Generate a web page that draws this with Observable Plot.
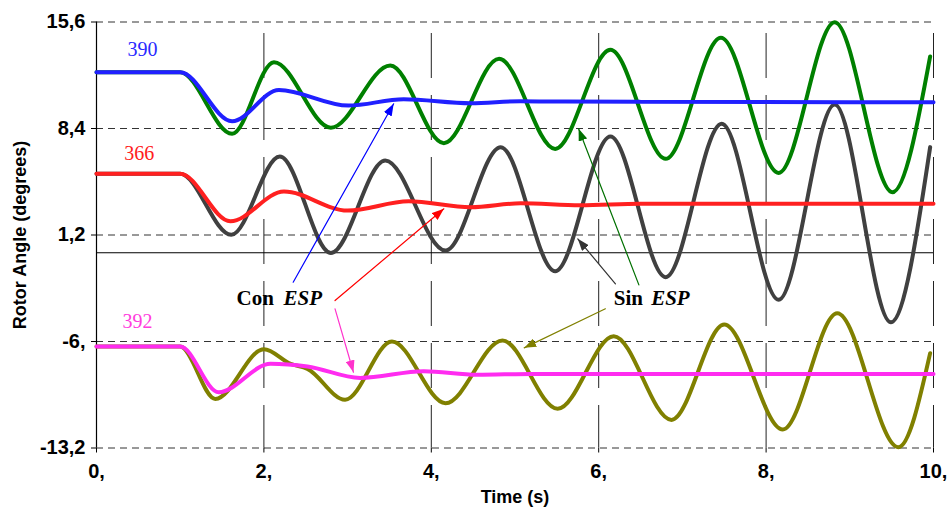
<!DOCTYPE html>
<html><head><meta charset="utf-8">
<script src="https://cdn.jsdelivr.net/npm/d3@7"></script>
<script src="https://cdn.jsdelivr.net/npm/@observablehq/plot@0.6"></script>
<style>html,body{margin:0;padding:0;background:#fff;overflow:hidden}</style>
</head><body><div id="chart"></div>
<script>
// ---- axis ticks ----
const xTicks = [0, 2, 4, 6, 8, 10];
const xTickLabels = ["0,", "2,", "4,", "6,", "8,", "10,"];
const yTicks = [15.6, 8.4, 1.2, -6, -13.2];
const yTickLabels = ["15,6", "8,4", "1,2", "-6,", "-13,2"];
const xLabel = "Time (s)";
const yLabel = "Rotor Angle (degrees)";

// ---- series (time s, rotor angle deg) ----
// Generator 390
const g390ConT = [0, 1.0, 1.62, 2.18, 3.01, 3.67, 4.47, 5.07, 5.6, 6.5, 10];
const g390ConV = [12.2, 12.2, 8.89, 11.0, 9.95, 10.38, 10.11, 10.25, 10.22, 10.2, 10.18];
const g390SinT = [0, 1.0, 1.62, 2.12, 2.80, 3.51, 4.15, 4.81, 5.48, 6.14, 6.80, 7.46, 8.15, 8.82, 9.51, 9.96];
const g390SinV = [12.2, 12.2, 8.04, 12.88, 8.45, 12.66, 7.41, 13.11, 7.02, 13.72, 6.35, 14.53, 5.40, 15.59, 4.09, 13.27];
// Generator 366
const g366ConT = [0, 1.0, 1.60, 2.24, 3.0, 3.73, 4.47, 5.07, 5.78, 6.5, 10];
const g366ConV = [5.34, 5.34, 2.13, 4.14, 2.85, 3.48, 3.08, 3.35, 3.21, 3.31, 3.31];
const g366SinT = [0, 1.0, 1.61, 2.19, 2.80, 3.45, 4.17, 4.83, 5.48, 6.14, 6.80, 7.47, 8.15, 8.82, 9.49, 9.96];
const g366SinV = [5.34, 5.34, 1.21, 6.51, -0.01, 6.24, 0.15, 7.14, -1.25, 7.86, -1.65, 8.72, -3.18, 10.02, -4.7, 7.14];
// Generator 392
const g392ConT = [0, 1.0, 1.46, 2.08, 2.52, 3.15, 3.91, 4.55, 5.2, 10];
const g392ConV = [-6.34, -6.34, -9.43, -7.51, -7.69, -8.46, -8.01, -8.25, -8.19, -8.19];
const g392SinT = [0, 1.0, 1.42, 2.0, 2.32, 2.52, 2.97, 3.53, 4.17, 4.85, 5.51, 6.18, 6.87, 7.50, 8.20, 8.85, 9.58, 9.96];
const g392SinV = [-6.34, -6.34, -9.88, -6.52, -7.51, -7.85, -9.94, -6.0, -10.17, -5.93, -10.55, -5.64, -11.3, -4.85, -11.95, -4.09, -13.15, -6.79];

// ---- annotations ----
const genNames = ["390", "366", "392"];
const genNameT = [0.55, 0.51, 0.49];
const genNameV = [13.27, 6.30, -5.12];
const genNameColors = ["#2a2aff", "#ff2020", "#ff3ddd"];

const conWord = "Con";
const sinWord = "Sin";
const espWord = "ESP";
const conT = 1.673, conEspT = 2.234;
const sinT = 6.18, sinEspT = 6.627;
const legendV = -3.50;

// arrows: from label to curve
const arrowFromT = [2.35, 2.85, 2.85, 6.20, 6.48, 6.08];
const arrowFromV = [-1.99, -3.23, -3.79, -2.1, -2.17, -3.79];
const arrowToT = [3.55, 4.15, 3.07, 5.75, 5.76, 5.11];
const arrowToV = [10.07, 2.97, -8.08, 0.94, 8.38, -6.43];
const arrowColors = ["#0000ff", "#ff0000", "#ff33cc", "#333333", "#007000", "#808000"];

const rows = (t, v) => t.map((d, i) => ({t: d, v: v[i]}));

function head(color) {
  const ns = "http://www.w3.org/2000/svg";
  const m = document.createElementNS(ns, "marker");
  m.setAttribute("viewBox", "-12 -4.5 12 9");
  m.setAttribute("markerWidth", "12");
  m.setAttribute("markerHeight", "9");
  m.setAttribute("markerUnits", "userSpaceOnUse");
  m.setAttribute("orient", "auto");
  const p = document.createElementNS(ns, "path");
  p.setAttribute("d", "M-12,-4.5L0,0L-12,4.5Z");
  p.setAttribute("fill", color);
  p.setAttribute("stroke", "none");
  m.appendChild(p);
  return m;
}

const serif = "Liberation Serif, Times New Roman, serif";
const lineOpts = {x: "t", y: "v", strokeWidth: 4, curve: "monotone-x", strokeLinejoin: "round"};
const legendText = {y: legendV, text: d => d, fontFamily: serif, fontSize: 21, fontWeight: "bold", textAnchor: "start", lineAnchor: "bottom", fill: "black"};

const arrowMarks = arrowFromT.map((_, i) =>
  Plot.line([[arrowFromT[i], arrowFromV[i]], [arrowToT[i], arrowToV[i]]],
    {stroke: arrowColors[i], strokeWidth: 1.2, markerEnd: head})
);

const chart = Plot.plot({
  width: 948,
  height: 508,
  marginLeft: 96,
  marginRight: 15,
  marginTop: 21.5,
  marginBottom: 60.5,
  x: {domain: [0, 10]},
  y: {domain: [-13.2, 15.6]},
  style: {fontFamily: "Liberation Sans, Arial, sans-serif", fontWeight: "bold", background: "white", color: "black"},
  marks: [
    Plot.ruleY(yTicks, {stroke: "#333", strokeDasharray: "7,5", strokeWidth: 1}),
    Plot.ruleX(xTicks.slice(1), {stroke: "#222", strokeDasharray: "45,17", strokeDashoffset: 50.5, strokeWidth: 1}),
    Plot.ruleY([0], {stroke: "black", strokeWidth: 1}),
    Plot.ruleX([0], {stroke: "black", strokeWidth: 1.2}),
    Plot.axisY({ticks: yTicks, tickFormat: d => yTickLabels[yTicks.indexOf(d)], tickSize: 5, tickPadding: 6, fontSize: 20, fontWeight: "bold", label: null, stroke: "black"}),
    Plot.axisX({ticks: xTicks, tickFormat: d => xTickLabels[xTicks.indexOf(d)], tickSize: 5, tickPadding: 11, fontSize: 20, fontWeight: "bold", label: null, stroke: "black"}),
    Plot.text([xLabel], {frameAnchor: "bottom", dy: 55, lineAnchor: "bottom", text: d => d, fontSize: 18, fontWeight: "bold"}),
    Plot.text([yLabel], {frameAnchor: "left", dx: -76, rotate: -90, text: d => d, fontSize: 18, fontWeight: "bold", textAnchor: "middle", lineAnchor: "middle"}),
    // Sin ESP (no stabilizer)
    Plot.line(rows(g390SinT, g390SinV), {...lineOpts, stroke: "#008000"}),
    Plot.line(rows(g366SinT, g366SinV), {...lineOpts, stroke: "#404040"}),
    Plot.line(rows(g392SinT, g392SinV), {...lineOpts, stroke: "#808000"}),
    // Con ESP (with stabilizer)
    Plot.line(rows(g390ConT, g390ConV), {...lineOpts, stroke: "#2020ff"}),
    Plot.line(rows(g366ConT, g366ConV), {...lineOpts, stroke: "#ff2020"}),
    Plot.line(rows(g392ConT, g392ConV), {...lineOpts, stroke: "#ff2cf0"}),
    // generator labels
    Plot.text(genNames, {x: (d, i) => genNameT[i], y: (d, i) => genNameV[i], text: d => d, fill: (d, i) => genNameColors[i], fontFamily: serif, fontWeight: "normal", fontSize: 20, lineAnchor: "bottom", textAnchor: "middle"}),
    ...arrowMarks,
    Plot.text([conWord], {...legendText, x: conT}),
    Plot.text([espWord], {...legendText, x: conEspT, fontStyle: "italic"}),
    Plot.text([sinWord], {...legendText, x: sinT}),
    Plot.text([espWord], {...legendText, x: sinEspT, fontStyle: "italic"})
  ]
});
document.getElementById("chart").appendChild(chart);
</script>
</body></html>
